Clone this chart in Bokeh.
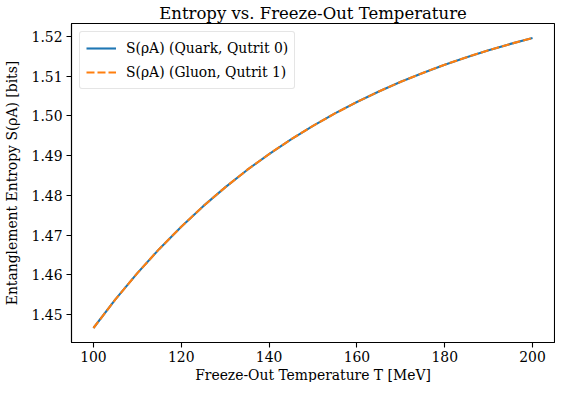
from bokeh.plotting import figure
from bokeh.models import FixedTicker, Legend, LegendItem, Range1d, Title
from bokeh.embed import file_html
from bokeh.resources import INLINE

# --- data ---
temperature_mev = [100, 105, 110, 115, 120, 125, 130, 135, 140, 145, 150,
                   155, 160, 165, 170, 175, 180, 185, 190, 195, 200]
entropy_quark = [1.44660, 1.45380, 1.46042, 1.46651, 1.47211, 1.47727, 1.48201,
                 1.48638, 1.49039, 1.49409, 1.49749, 1.50061, 1.50349, 1.50614,
                 1.50857, 1.51081, 1.51288, 1.51477, 1.51652, 1.51812, 1.51960]
entropy_gluon = [1.44660, 1.45380, 1.46042, 1.46651, 1.47211, 1.47727, 1.48201,
                 1.48638, 1.49039, 1.49409, 1.49749, 1.50061, 1.50349, 1.50614,
                 1.50857, 1.51081, 1.51288, 1.51477, 1.51652, 1.51812, 1.51960]
x_ticks = [100, 120, 140, 160, 180, 200]
y_ticks = [1.45, 1.46, 1.47, 1.48, 1.49, 1.50, 1.51, 1.52]
y_tick_labels = ["1.45", "1.46", "1.47", "1.48", "1.49", "1.50", "1.51", "1.52"]
series_labels = ["S(ρA) (Quark, Qutrit 0)", "S(ρA) (Gluon, Qutrit 1)"]
title_text = "Entropy vs. Freeze-Out Temperature"
x_label = "Freeze-Out Temperature T [MeV]"
y_label = "Entanglement Entropy S(ρA) [bits]"

SERIF = "DejaVu Serif"

xpad = (max(temperature_mev) - min(temperature_mev)) * 0.05
allv = entropy_quark + entropy_gluon
ypad = (max(allv) - min(allv)) * 0.05
x0, x1 = min(temperature_mev) - xpad, max(temperature_mev) + xpad
y0, y1 = min(allv) - ypad, max(allv) + ypad

p = figure(width=555, height=382, output_backend="svg", toolbar_location=None,
           x_range=Range1d(x0, x1), y_range=Range1d(y0, y1),
           title=title_text,
           min_border_left=64, min_border_right=1, min_border_top=5,
           min_border_bottom=0)

p.background_fill_color = "white"
p.border_fill_color = "white"
p.outline_line_color = "black"
p.outline_line_width = 1.1
p.grid.visible = False

p.title.text_font = SERIF
p.title.text_font_size = "16.5px"
p.title.text_font_style = "normal"
p.title.text_color = "black"
p.title.align = "center"
p.title.standoff = 2

for ax in (p.xaxis, p.yaxis):
    ax.major_label_text_font = SERIF
    ax.major_label_text_font_size = "13.9px"
    ax.axis_label_text_font = SERIF
    ax.axis_label_text_font_size = "13.9px"
    ax.axis_label_text_font_style = "normal"
    ax.major_tick_in = 0
    ax.major_tick_out = 5
    ax.minor_tick_in = 0
    ax.minor_tick_out = 0
    ax.axis_line_color = "black"
    ax.axis_line_width = 1.1
    ax.major_tick_line_width = 1.1
    ax.major_label_text_color = "black"
    ax.axis_label_text_color = "black"

p.xaxis.ticker = FixedTicker(ticks=x_ticks)
p.yaxis.ticker = FixedTicker(ticks=y_ticks)
p.yaxis.major_label_overrides = {t: l for t, l in zip(y_ticks, y_tick_labels)}
p.yaxis.axis_label = y_label
p.xaxis.major_label_standoff = 3
p.yaxis.major_label_standoff = 4
p.yaxis.axis_label_standoff = 9

# x-axis title as a compact title panel below the axis
xt = Title(text=x_label, align="center", text_font=SERIF,
           text_font_size="13.9px", text_font_style="normal",
           text_color="black", standoff=0, offset=0)
p.add_layout(xt, "below")

r1 = p.line(temperature_mev, entropy_quark, line_color="#1f77b4", line_width=2.1)
r2 = p.line(temperature_mev, entropy_gluon, line_color="#ff7f0e", line_width=2.1,
            line_dash="8 3")

legend = Legend(items=[LegendItem(label=series_labels[0], renderers=[r1]),
                       LegendItem(label=series_labels[1], renderers=[r2])],
                location="top_left")
legend.label_text_font = SERIF
legend.label_text_font_size = "13.9px"
legend.label_text_color = "black"
legend.border_line_color = "#cccccc"
legend.border_line_width = 1
legend.background_fill_alpha = 0.8
legend.margin = 8
legend.padding = 6
legend.spacing = 4
legend.glyph_width = 30
legend.glyph_height = 20
legend.label_standoff = 10
if "border_radius" in legend.properties():
    legend.border_radius = 3
p.add_layout(legend)

open("out.html", "w").write(file_html(p, INLINE))
